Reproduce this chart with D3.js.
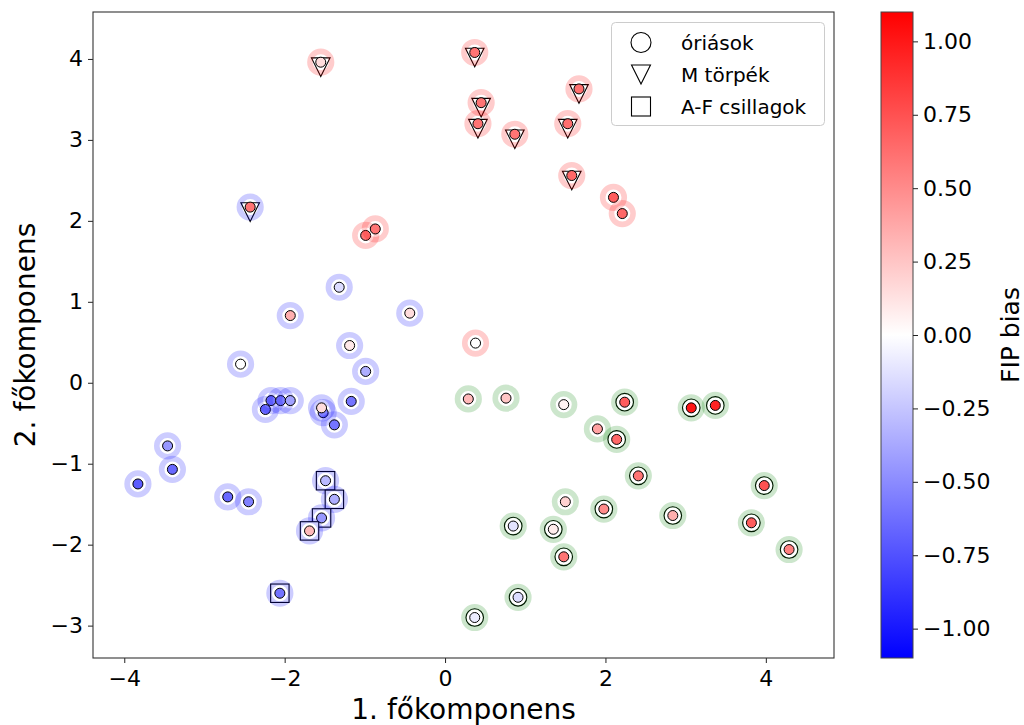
<!DOCTYPE html>
<html>
<head>
<meta charset="utf-8">
<script src="https://cdn.jsdelivr.net/npm/d3@7/dist/d3.min.js"></script>
<style>
  body { margin: 0; background: #fff; }
  svg { font-family: "DejaVu Sans", sans-serif; }
</style>
</head>
<body>
<svg id="chart" width="1024" height="725"></svg>
<script>
// star data: first / second principal component, FIP bias
var pc1 = [
  -1.55, 0.37, 0.45, 0.41, 0.87, 1.67, 1.53, 1.58, 2.10, 2.21, -0.99, -0.87, 0.38,
  -2.43, -1.32, -1.93, -0.44, -1.19, -2.55, -0.99, -2.24, -2.17, -2.05, -1.93, -1.52, -1.54, -1.38, -1.17,
  -3.46, -3.40, -3.83, -2.71, -2.45, -1.49, -1.38, -1.54, -1.69, -2.06,
  0.29, 0.76, 1.48, 2.24, 3.07, 3.37, 1.90, 2.14, 2.41, 3.98, 1.50, 1.98, 2.84, 3.82, 4.29,
  0.85, 1.35, 1.48, 0.91, 0.37
];
var pc2 = [
  3.96, 4.08, 3.46, 3.20, 3.07, 3.63, 3.20, 2.56, 2.29, 2.09, 1.82, 1.90, 0.49,
  2.17, 1.18, 0.83, 0.86, 0.46, 0.23, 0.14, -0.33, -0.22, -0.22, -0.22, -0.37, -0.31, -0.52, -0.23,
  -0.78, -1.07, -1.25, -1.41, -1.47, -1.21, -1.44, -1.67, -1.83, -2.60,
  -0.20, -0.19, -0.27, -0.24, -0.31, -0.28, -0.57, -0.70, -1.15, -1.27, -1.47, -1.56, -1.64, -1.73, -2.06,
  -1.77, -1.81, -2.15, -2.65, -2.90
];
var bias = [
  0.15, 0.60, 0.60, 0.60, 0.60, 0.62, 0.62, 0.65, 0.70, 0.65, 0.60, 0.60, 0.00,
  0.60, -0.15, 0.35, 0.15, 0.10, 0.00, -0.35, -0.60, -0.60, -0.55, -0.40, -0.55, 0.15, -0.60, -0.60,
  -0.45, -0.65, -0.70, -0.65, -0.55, -0.30, -0.35, -0.45, 0.30, -0.60,
  0.30, 0.25, 0.05, 0.70, 1.00, 0.95, 0.40, 0.65, 0.60, 0.75, 0.20, 0.50, 0.35, 0.70, 0.55,
  -0.12, 0.08, 0.60, -0.15, -0.08
];
// cluster of each star (halo colour)
var cluster = [
  "r","r","r","r","r","r","r","r","r","r","r","r","r",
  "b","b","b","b","b","b","b","b","b","b","b","b","b","b","b",
  "b","b","b","b","b","b","b","b","b","b",
  "g","g","g","g","g","g","g","g","g","g","g","g","g","g","g",
  "g","g","g","g","g"
];
// star type: M = M dwarf, AF = A-F star, G = giant, "" = none
var kind = [
  "M","M","M","M","M","M","M","M","","","","","",
  "M","","","","","","","","","","","","","","",
  "","","","","","AF","AF","AF","AF","AF",
  "","","","G","G","G","","G","G","G","","G","G","G","G",
  "G","G","G","G","G"
];
var legendLabels = ["óriások", "M törpék", "A-F csillagok"];
var legendKinds = ["G", "M", "AF"];
var xTicks = [-4, -2, 0, 2, 4];
var yTicks = [-3, -2, -1, 0, 1, 2, 3, 4];
var cbTicks = [-1, -0.75, -0.5, -0.25, 0, 0.25, 0.5, 0.75, 1];

var svg = d3.select("#chart"),
    pLeft = 93, pRight = 834, pTop = 12, pBottom = 658;

var x = d3.scaleLinear().domain([-4.39, 4.85]).range([pLeft, pRight]),
    y = d3.scaleLinear().domain([-3.40, 4.58]).range([pBottom, pTop]),
    bwr = d3.scaleLinear().domain([-1.1, 0, 1.1]).range(["#0000ff", "#ffffff", "#ff0000"]);
var haloColor = {r: "#ff0000", b: "#0000ff", g: "#008000"};

var stars = pc1.map(function(d, i) {
  return {x: d, y: pc2[i], bias: bias[i], cluster: cluster[i], kind: kind[i]};
});

function trianglePath(cx, cy, s, dy) {
  return "M" + (cx - s) + "," + (cy + dy - s) + "L" + (cx + s) + "," + (cy + dy - s) +
         "L" + cx + "," + (cy + dy + s) + "Z";
}

function drawShape(sel, k, cx, cy, legend) {
  if (k == "M") {
    sel.append("path")
      .attr("d", trianglePath(cx, cy, legend ? 9.5 : 9.3, legend ? 0 : 5))
      .attr("fill", "#fff").attr("stroke", "#000").attr("stroke-width", 1.1);
  } else if (k == "AF") {
    var h = legend ? 9.5 : 9.2;
    sel.append("rect")
      .attr("x", cx - h).attr("y", cy - h).attr("width", 2 * h).attr("height", 2 * h)
      .attr("fill", "#fff").attr("stroke", "#000").attr("stroke-width", 1.1);
  } else if (k == "G") {
    sel.append("circle")
      .attr("cx", cx).attr("cy", cy).attr("r", legend ? 10 : 8.8)
      .attr("fill", "#fff").attr("stroke", "#000").attr("stroke-width", 1.1);
  }
}

function styleAxis(g) {
  g.select(".domain").remove();
  g.selectAll(".tick line").attr("stroke", "#222");
  g.selectAll(".tick text")
    .style("font-family", "'DejaVu Sans', sans-serif")
    .style("font-size", "22px")
    .attr("fill", "#000");
}

// axes
svg.append("g")
  .attr("transform", "translate(0," + pBottom + ")")
  .call(d3.axisBottom(x).tickValues(xTicks).tickSize(5).tickPadding(7).tickFormat(d3.format("d")))
  .call(styleAxis);

svg.append("g")
  .attr("transform", "translate(" + pLeft + ",0)")
  .call(d3.axisLeft(y).tickValues(yTicks).tickSize(5).tickPadding(5).tickFormat(d3.format("d")))
  .call(styleAxis);

// stars, one after the other: shape, translucent halo ring, coloured dot
var plot = svg.append("g");
stars.forEach(function(d) {
  var cx = x(d.x), cy = y(d.y);
  var g = plot.append("g");
  drawShape(g, d.kind, cx, cy, false);
  g.append("circle").attr("cx", cx).attr("cy", cy).attr("r", 10.8)
    .attr("fill", "none")
    .attr("stroke", haloColor[d.cluster]).attr("stroke-opacity", 0.2).attr("stroke-width", 5.6);
  g.append("circle").attr("cx", cx).attr("cy", cy).attr("r", 5)
    .attr("fill", bwr(d.bias)).attr("stroke", "#000").attr("stroke-width", 1);
});

svg.append("rect")
  .attr("x", pLeft).attr("y", pTop).attr("width", pRight - pLeft).attr("height", pBottom - pTop)
  .attr("fill", "none").attr("stroke", "#333").attr("stroke-width", 1.1);

// legend
var legend = svg.append("g");
legend.append("rect")
  .attr("x", 611.5).attr("y", 22.5).attr("width", 213).attr("height", 103).attr("rx", 4)
  .attr("fill", "#fff").attr("fill-opacity", 0.8).attr("stroke", "#ccc");
legendLabels.forEach(function(t, i) {
  var ly = 42.5 + i * 32;
  drawShape(legend, legendKinds[i], 641, ly, true);
  legend.append("text").attr("x", 681).attr("y", ly).attr("dy", "0.35em")
    .style("font-size", "20px").text(t);
});

// axis titles
svg.append("text")
  .attr("x", (pLeft + pRight) / 2).attr("y", 719)
  .attr("text-anchor", "middle").style("font-size", "28px")
  .text("1. főkomponens");
svg.append("text")
  .attr("transform", "translate(35," + (pTop + pBottom) / 2 + ") rotate(-90)")
  .attr("text-anchor", "middle").style("font-size", "28px")
  .text("2. főkomponens");

// colorbar
var cbL = 881, cbW = 32;
var cby = d3.scaleLinear().domain([-1.1, 1.1]).range([pBottom, pTop]);
var grad = svg.append("defs").append("linearGradient")
  .attr("id", "bwr").attr("x1", 0).attr("y1", 1).attr("x2", 0).attr("y2", 0);
grad.append("stop").attr("offset", "0%").attr("stop-color", bwr(-1.1));
grad.append("stop").attr("offset", "50%").attr("stop-color", bwr(0));
grad.append("stop").attr("offset", "100%").attr("stop-color", bwr(1.1));
svg.append("rect")
  .attr("x", cbL).attr("y", pTop).attr("width", cbW).attr("height", pBottom - pTop)
  .attr("fill", "url(#bwr)").attr("stroke", "#444").attr("stroke-width", 1);
svg.append("g")
  .attr("transform", "translate(" + (cbL + cbW) + ",0)")
  .call(d3.axisRight(cby).tickValues(cbTicks).tickSize(5).tickPadding(5).tickFormat(d3.format(".2f")))
  .call(styleAxis);
svg.append("text")
  .attr("transform", "translate(1019," + (pTop + pBottom) / 2 + ") rotate(-90)")
  .attr("text-anchor", "middle").style("font-size", "25px")
  .text("FIP bias");
</script>
</body>
</html>
